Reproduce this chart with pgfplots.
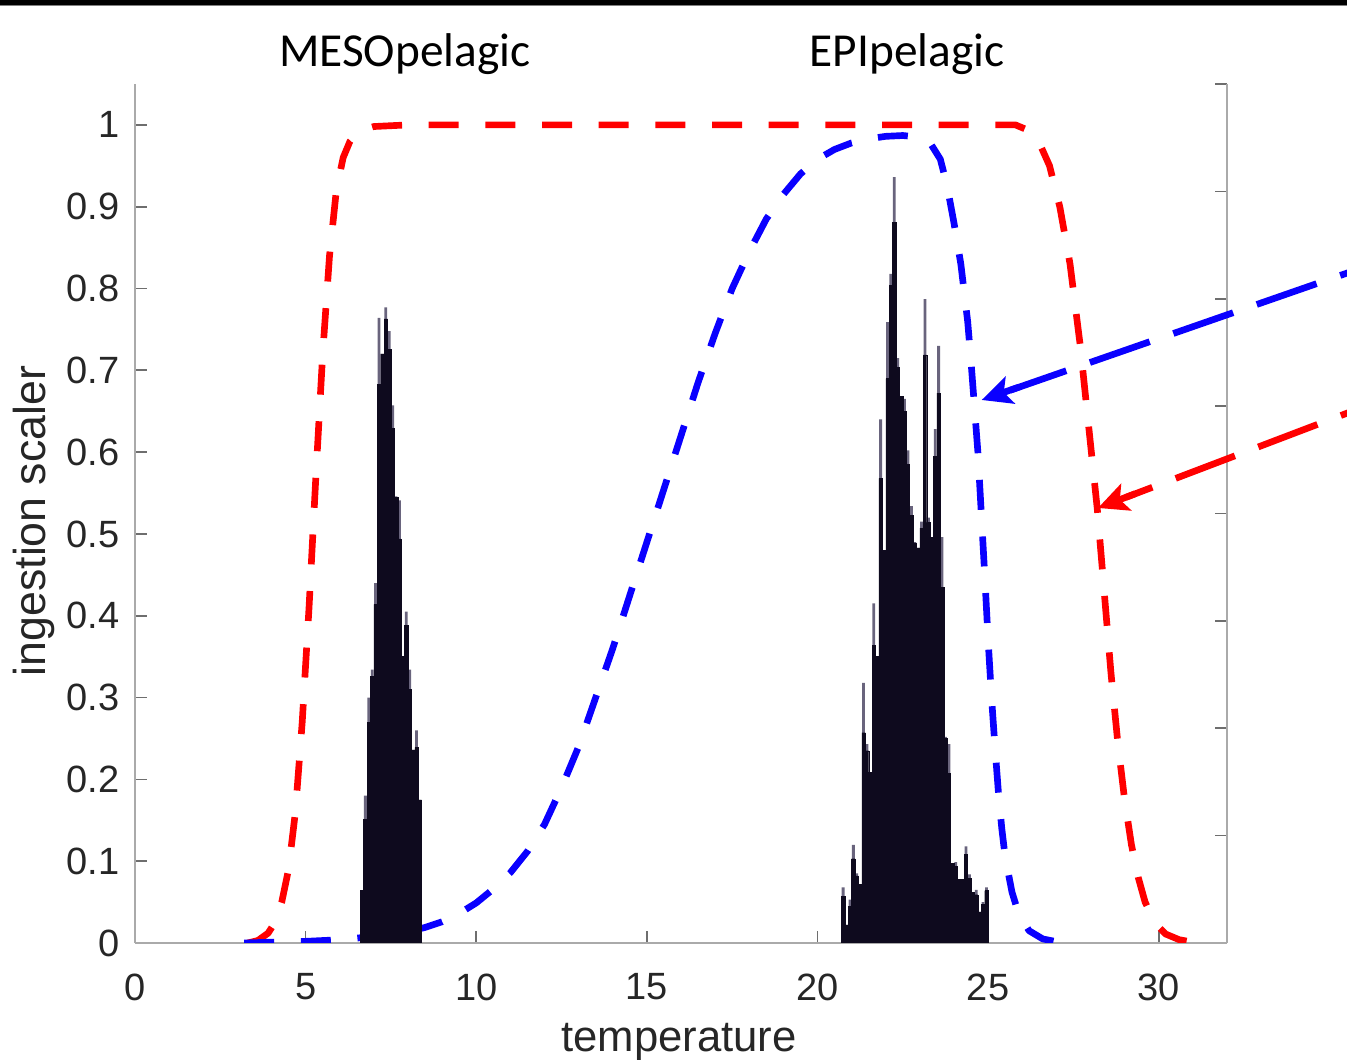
\documentclass[border=0pt]{standalone}
\usepackage{fontspec}
\setmainfont{Liberation Sans}
\newfontfamily\calibri{Carlito}
\usepackage{pgfplots}
\pgfplotsset{compat=1.18}
\usetikzlibrary{arrows.meta}
\definecolor{tickgray}{RGB}{38,38,38}
\definecolor{axgray}{RGB}{170,170,170}
\definecolor{tkgray}{RGB}{110,110,110}
\definecolor{histbody}{RGB}{14,10,30}
\definecolor{histspike}{RGB}{105,100,125}
\definecolor{mblue}{RGB}{10,0,255}
\definecolor{mred}{RGB}{255,0,0}

\begin{document}
\begin{tikzpicture}
\useasboundingbox (0pt,0pt) rectangle (404.1pt,318pt);
\fill[black] (0pt,316.5pt) rectangle (404.1pt,318.5pt);
\draw[gray, line width=0.3pt] (0pt,316.3pt) -- (404.1pt,316.3pt);

% right-hand axis (ticks only)
\begin{axis}[
  at={(40.5pt,35.1pt)}, anchor=south west,
  width=327.6pt, height=257.7pt, scale only axis,
  xmin=0, xmax=32, ymin=0, ymax=8,
  axis x line=none, axis y line*=right,
  axis line style={draw=axgray, line width=0.8pt},
  tick align=inside, major tick length=3.5pt,
  tick style={draw=tkgray, line width=0.5pt},
  ytick={0,1,2,3,4,5,6,7,8}, yticklabels={},
  xtick=\empty,
]
\end{axis}

\begin{axis}[
  at={(40.5pt,35.1pt)}, anchor=south west,
  width=327.6pt, height=257.7pt, scale only axis,
  xmin=0, xmax=32, ymin=0, ymax=1.05,
  axis x line*=bottom, axis y line*=left,
  axis line style={draw=axgray, line width=0.8pt},
  tick align=inside, major tick length=3.5pt,
  tick style={draw=tkgray, line width=0.5pt},
  xtick={0,5,10,15,20,25,30},
  xticklabels={0,5,10,15,20,25,30},
  ytick={0,0.1,0.2,0.3,0.4,0.5,0.6,0.7,0.8,0.9,1},
  yticklabels={0,0.1,0.2,0.3,0.4,0.5,0.6,0.7,0.8,0.9,1},
  yticklabel style={font=\fontsize{11.4}{13}\selectfont, text=tickgray, inner sep=0pt, anchor=east, xshift=-4.5pt},
  xticklabel style={font=\fontsize{11.4}{13}\selectfont, text=tickgray, inner sep=0pt, anchor=north, yshift=-9pt},
]
% high-T tolerant ingestion curve (red)
\addplot[mred, line width=2pt, dash pattern=on 9pt off 8pt, line join=round] coordinates {
(3.3,0) (3.6,0.003) (3.9,0.012) (4.1,0.025) (4.3,0.05) (4.5,0.09) (4.7,0.16)
(4.9,0.27) (5.1,0.41) (5.3,0.57) (5.5,0.72) (5.7,0.84) (5.9,0.92) (6.1,0.96)
(6.3,0.98) (6.6,0.993) (7,0.998) (8,1) (25.8,1) (26.2,0.993) (26.5,0.978)
(26.8,0.95) (27.1,0.9) (27.4,0.83) (27.7,0.73) (27.95,0.63) (28.2,0.53)
(28.4,0.43) (28.6,0.33) (28.8,0.245) (29.0,0.175) (29.2,0.12) (29.4,0.08)
(29.6,0.05) (29.9,0.024) (30.2,0.011) (30.6,0.004) (31.0,0.001) (31.3,0)
};
% EPI ingestion curve (blue)
\addplot[mblue, line width=2pt, dash pattern=on 9pt off 8pt, line join=round] coordinates {
(3.2,0) (4,0.001) (5,0.002) (6,0.004) (7,0.008) (8,0.014) (8.5,0.019)
(9,0.026) (9.5,0.036) (10,0.049) (10.5,0.066) (11,0.086) (11.5,0.112)
(12,0.145) (12.5,0.19) (13,0.24) (13.5,0.3) (14,0.36) (14.5,0.425) (15,0.49)
(15.5,0.555) (16,0.62) (16.5,0.685) (17,0.745) (17.5,0.8) (18,0.845)
(18.5,0.885) (19,0.915) (19.5,0.94) (20,0.958) (20.5,0.97) (21,0.978)
(21.5,0.983) (22,0.986) (22.5,0.987) (23,0.985) (23.3,0.978) (23.6,0.958)
(23.8,0.925) (24.0,0.88) (24.2,0.83) (24.4,0.76) (24.5,0.71) (24.6,0.655)
(24.7,0.6) (24.8,0.525) (24.9,0.45) (25.0,0.37) (25.1,0.3) (25.2,0.24)
(25.3,0.185) (25.4,0.14) (25.5,0.105) (25.7,0.062) (25.9,0.035) (26.2,0.015)
(26.6,0.005) (27.2,0)
};
% histogram spikes (bin maxima)
\addplot[ybar, bar width=0.85pt, fill=histspike, draw=none] coordinates {
(6.65,0.064) (6.75,0.18) (6.85,0.30) (6.95,0.334) (7.05,0.44) (7.15,0.764)
(7.25,0.72) (7.35,0.777) (7.45,0.748) (7.55,0.657) (7.65,0.546) (7.75,0.541)
(7.85,0.35) (7.95,0.405) (8.05,0.334) (8.15,0.236) (8.25,0.26) (8.35,0.175)
(20.75,0.068) (20.85,0.022) (20.95,0.053) (21.05,0.12) (21.15,0.085) (21.25,0.072)
(21.35,0.318) (21.45,0.243) (21.55,0.209) (21.65,0.415) (21.75,0.35) (21.85,0.64)
(21.95,0.48) (22.05,0.759) (22.15,0.818) (22.25,0.936) (22.35,0.715) (22.45,0.668)
(22.55,0.665) (22.65,0.602) (22.75,0.534) (22.85,0.49) (22.95,0.483) (23.05,0.515)
(23.15,0.787) (23.25,0.52) (23.35,0.496) (23.45,0.628) (23.55,0.73) (23.65,0.496)
(23.75,0.252) (23.85,0.243) (23.95,0.097) (24.05,0.099) (24.15,0.078) (24.25,0.078)
(24.35,0.118) (24.45,0.084) (24.55,0.062) (24.65,0.065) (24.75,0.038) (24.85,0.05)
(24.95,0.068)
};
% histogram bodies
\addplot[ybar, bar width=0.1, fill=histbody, draw=histbody, line width=0.1pt] coordinates {
(6.65,0.064) (6.75,0.151) (6.85,0.27) (6.95,0.326) (7.05,0.414) (7.15,0.683)
(7.25,0.72) (7.35,0.763) (7.45,0.726) (7.55,0.629) (7.65,0.545) (7.75,0.494)
(7.85,0.35) (7.95,0.388) (8.05,0.31) (8.15,0.236) (8.25,0.239) (8.35,0.175)
(20.75,0.057) (20.85,0.022) (20.95,0.045) (21.05,0.103) (21.15,0.082) (21.25,0.072)
(21.35,0.257) (21.45,0.235) (21.55,0.209) (21.65,0.364) (21.75,0.35) (21.85,0.568)
(21.95,0.48) (22.05,0.69) (22.15,0.804) (22.25,0.881) (22.35,0.704) (22.45,0.668)
(22.55,0.65) (22.65,0.585) (22.75,0.523) (22.85,0.489) (22.95,0.483) (23.05,0.507)
(23.15,0.719) (23.25,0.514) (23.35,0.496) (23.45,0.595) (23.55,0.672) (23.65,0.435)
(23.75,0.25) (23.85,0.207) (23.95,0.097) (24.05,0.094) (24.15,0.078) (24.25,0.078)
(24.35,0.108) (24.45,0.079) (24.55,0.062) (24.65,0.059) (24.75,0.038) (24.85,0.047)
(24.95,0.064)
};
\end{axis}

% labels
\node[anchor=base, rotate=90, text=tickgray, inner sep=0pt, font=\fontsize{13.4}{15}\selectfont] at (13.5pt,161.7pt) {ingestion scaler};
\node[anchor=base, text=tickgray, inner sep=0pt, font=\fontsize{13.1}{15}\selectfont] at (203.7pt,2.4pt) {temperature};
\node[anchor=base, inner sep=0pt, font=\calibri\fontsize{14.2}{16}\selectfont] at (121.4pt,297.9pt) {MESOpelagic};
\node[anchor=base, inner sep=0pt, font=\calibri\fontsize{14.2}{16}\selectfont] at (272.1pt,297.9pt) {EPIpelagic};

% annotation arrows: dashed shafts
\draw[mblue, line width=2pt, dash pattern=on 19pt off 7.5pt] (420pt,241.6pt) -- (303.0pt,200.9pt);
\draw[mred, line width=2pt, dash pattern=on 19pt off 7.5pt] (420pt,200.1pt) -- (337.8pt,168.8pt);
% solid filled heads
\draw[mblue, line width=2pt, solid, -{Stealth[length=9pt 0,width=8.5pt 0,inset=2pt 0]}] (305.8pt,201.9pt) -- (294.5pt,198.0pt);
\draw[mred, line width=2pt, solid, -{Stealth[length=9pt 0,width=8.5pt 0,inset=2pt 0]}] (340.6pt,169.9pt) -- (329.4pt,165.6pt);
\end{tikzpicture}
\end{document}
